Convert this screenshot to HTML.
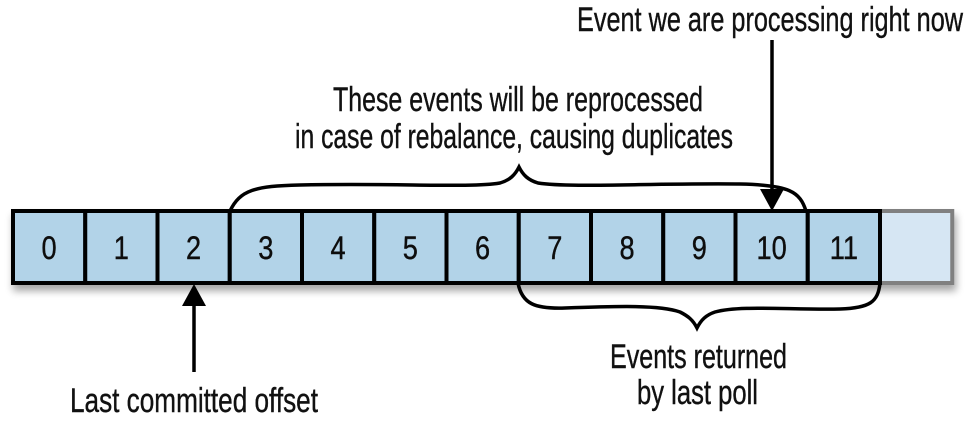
<!DOCTYPE html>
<html><head><meta charset="utf-8"><style>
html,body{margin:0;padding:0;background:#fff;}
svg{display:block;}
text{font-family:"Liberation Sans Narrow","Liberation Sans",sans-serif;fill:#111;stroke:#111;stroke-width:0.4;}
</style></head><body>
<svg width="978" height="422" viewBox="0 0 978 422">
<defs>
<filter id="sh" x="-5%" y="-20%" width="110%" height="160%"><feGaussianBlur in="SourceAlpha" stdDeviation="4"/><feOffset dx="2" dy="6"/><feComponentTransfer><feFuncA type="linear" slope="0.35"/></feComponentTransfer><feMerge><feMergeNode/><feMergeNode in="SourceGraphic"/></feMerge></filter>
</defs>
<g id="cells" filter="url(#sh)"></g>
<path d="M230 211 C240 190 255 186 300 185 C400 183 470 188 500 183 C510 180 515 175 519 167 C523 175 528 180 538 183 C570 188 650 183 740 184 C790 185 800 192 806 211" fill="none" stroke="#000" stroke-width="3.5"/>
<path d="M518 283 C522 304 535 309 565 308 C620 306 660 305 680 312 C688 316 693 320 697 328 C701 320 706 315 715 312 C740 305 790 310 840 309 C870 308 878 302 880 283" fill="none" stroke="#000" stroke-width="3.5"/>
<line x1="772" y1="40" x2="772" y2="192" stroke="#000" stroke-width="3.5"/>
<polygon points="760,189 784,189 772,211" fill="#000"/>
<line x1="194" y1="372" x2="194" y2="302" stroke="#000" stroke-width="3.5"/>
<polygon points="182,306 206,306 194,284" fill="#000"/>
<text x="577" y="31" font-size="34" textLength="386" lengthAdjust="spacingAndGlyphs">Event we are processing right now</text>
<text x="333" y="111" font-size="34" textLength="370" lengthAdjust="spacingAndGlyphs">These events will be reprocessed</text>
<text x="295" y="148" font-size="34" textLength="438" lengthAdjust="spacingAndGlyphs">in case of rebalance, causing duplicates</text>
<text x="70" y="412" font-size="34" textLength="248" lengthAdjust="spacingAndGlyphs">Last committed offset</text>
<text x="610" y="368" font-size="34" textLength="177" lengthAdjust="spacingAndGlyphs">Events returned</text>
<text x="637" y="404" font-size="34" textLength="121" lengthAdjust="spacingAndGlyphs">by last poll</text>
</svg>
<script>
const offsets=[0,1,2,3,4,5,6,7,8,9,10,11];
const g=document.getElementById('cells');
const NS='http://www.w3.org/2000/svg';
const x0=13,w=72.25,y0=211,h=72;
const empty=document.createElementNS(NS,'rect');
empty.setAttribute('x',x0+offsets.length*w);empty.setAttribute('y',y0);empty.setAttribute('width',w);empty.setAttribute('height',h);
empty.setAttribute('fill','#d6e6f3');empty.setAttribute('stroke','#808080');empty.setAttribute('stroke-width','4');


g.appendChild(empty);
offsets.forEach((o,i)=>{
 const r=document.createElementNS(NS,'rect');
 r.setAttribute('x',x0+i*w);r.setAttribute('y',y0);r.setAttribute('width',w);r.setAttribute('height',h);
 r.setAttribute('fill','#b2d3e8');r.setAttribute('stroke','#000');r.setAttribute('stroke-width','4');
 
 
 g.appendChild(r);
 const t=document.createElementNS(NS,'text');
 t.setAttribute('x',x0+i*w+w/2);t.setAttribute('y',y0+h/2+12);t.setAttribute('text-anchor','middle');t.setAttribute('font-size','32');
 t.setAttribute('transform','translate('+(x0+i*w+w/2)+' 0) scale(0.85 1) translate('+(-(x0+i*w+w/2))+' 0)');
 t.textContent=o;
 
 
 g.appendChild(t);
});
</script>
</body></html>
